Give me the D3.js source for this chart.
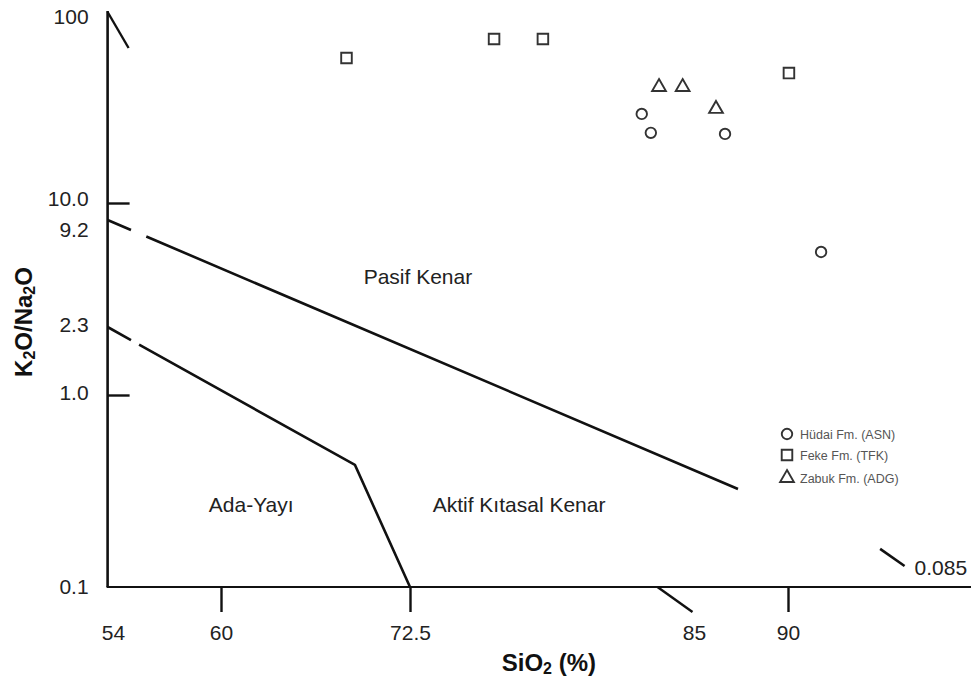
<!DOCTYPE html>
<html>
<head>
<meta charset="utf-8">
<script src="https://cdn.jsdelivr.net/npm/d3@7"></script>
<style>
  html, body { margin: 0; padding: 0; background: #fff; }
  svg { display: block; font-family: "Liberation Sans", Arial, sans-serif; }
</style>
</head>
<body>
<script>
// SiO2 vs K2O/Na2O tectonic setting discrimination diagram

// Axis ticks
const xTickValues = [54, 60, 72.5, 85, 90];
const xTickLabels = ["54", "60", "72.5", "85", "90"];
const yTickValues = [100, 10, 9.2, 2.3, 1, 0.1];
const yTickLabels = ["100", "10.0", "9.2", "2.3", "1.0", "0.1"];

// Samples (SiO2 %, K2O/Na2O)
const hudaiSiO2 = [82.7, 83.1, 86.65, 91.76];
const hudaiRatio = [29.1, 23.2, 22.9, 6.08];
const fekeSiO2 = [68.3, 76.2, 78.35, 90.05];
const fekeRatio = [56.9, 71.5, 71.5, 47.5];
const zabukSiO2 = [83.46, 84.5, 86.17];
const zabukRatio = [40.2, 40.2, 30.9];

// Field boundaries (SiO2 %, K2O/Na2O)
const sio2Min = 53.7;
const pmAcmBoundary = [[53.7, 9.2], [87.34, 0.324]];
const acmArcBoundary = [[53.7, 2.3], [68.86, 0.432], [72.5, 0.1]];
const rightBoundary = [[94.9, 0.158], [96.2, 0.1286]];
const rightBoundaryLabel = "0.085";

// Field names
const fieldNames = ["Pasif Kenar", "Aktif Kıtasal Kenar", "Ada-Yayı"];
const fieldSiO2 = [72.85, 77.3, 62.0];
const fieldRatio = [4.0, 0.246, 0.246];

// Legend
const seriesNames = ["Hüdai Fm. (ASN)", "Feke Fm. (TFK)", "Zabuk Fm. (ADG)"];

const W = 971, H = 681;
const svg = d3.select("body").append("svg").attr("width", W).attr("height", H);

// Piecewise scales following the diagram's graduation
const x = d3.scaleLinear().domain([54, 60, 72.5, 85, 90]).range([113, 221, 410, 694, 788]);
const y = d3.scaleLog().domain([0.1, 1, 2.3, 9.2, 10, 100]).range([587, 395, 327, 220, 203, 11]);

const x0 = x(sio2Min);
const yBottom = y(0.1);

const ink = "#111";
const labelSize = 21;
const titleSize = 24;

// Axis lines
svg.append("line").attr("x1", x0).attr("x2", x0).attr("y1", y(100)).attr("y2", yBottom)
  .attr("stroke", ink).attr("stroke-width", 2.6);
svg.append("line").attr("x1", x0 - 1).attr("x2", W).attr("y1", yBottom).attr("y2", yBottom)
  .attr("stroke", ink).attr("stroke-width", 2);

// Y axis ticks and labels
const gY = svg.append("g").attr("transform", `translate(${x0},0)`)
  .call(d3.axisLeft(y).tickValues(yTickValues)
    .tickFormat((d, i) => yTickLabels[i]).tickSize(-22).tickPadding(19));
gY.select(".domain").remove();
gY.selectAll(".tick line")
  .attr("stroke", ink).attr("stroke-width", 2.4)
  .filter(d => !(d === 10 || d === 1)).remove();
const yNudge = new Map([[100, 6], [9.2, 10], [2.3, -2], [10, -4], [1, -2]]);
gY.selectAll(".tick text")
  .attr("font-size", labelSize).attr("fill", "#222")
  .attr("font-family", "Liberation Sans, Arial, sans-serif")
  .attr("transform", d => `translate(0,${yNudge.get(d) || 0})`);

// Slanted mark at the top of the ratio axis
svg.append("line").attr("x1", x0).attr("y1", y(100) + 1)
  .attr("x2", x0 + 21).attr("y2", y(100) + 37)
  .attr("stroke", ink).attr("stroke-width", 2.4);

// X axis ticks and labels
const gX = svg.append("g").attr("transform", `translate(0,${yBottom})`)
  .call(d3.axisBottom(x).tickValues(xTickValues)
    .tickFormat((d, i) => xTickLabels[i]).tickSize(25).tickPadding(13));
gX.select(".domain").remove();
gX.selectAll(".tick line").attr("stroke", ink).attr("stroke-width", 2.4);
gX.selectAll(".tick line").filter(d => d === 54).remove();
gX.selectAll(".tick line").filter(d => d === 85)
  .attr("x1", -37).attr("y1", 0).attr("x2", -2).attr("y2", 25);
gX.selectAll(".tick text")
  .attr("font-size", labelSize).attr("fill", "#222")
  .attr("font-family", "Liberation Sans, Arial, sans-serif");

// Boundary lines
const line = d3.line().x(d => x(d[0])).y(d => y(d[1]));

function drawBoundary(points, gapFrom, gapTo) {
  const path = svg.append("path").attr("d", line(points))
    .attr("fill", "none").attr("stroke", ink).attr("stroke-width", 2.6)
    .attr("stroke-linejoin", "miter");
  if (gapFrom != null) {
    const px0 = x(points[0][0]), py0 = y(points[0][1]);
    const px1 = x(points[1][0]), py1 = y(points[1][1]);
    const ratio = Math.hypot(px1 - px0, py1 - py0) / (px1 - px0);
    const d1 = (x(gapFrom) - px0) * ratio;
    const d2 = (x(gapTo) - x(gapFrom)) * ratio;
    const total = path.node().getTotalLength();
    path.attr("stroke-dasharray", `${d1} ${d2} ${total}`);
  }
  return path;
}
drawBoundary(pmAcmBoundary, 55.0, 55.85);
drawBoundary(acmArcBoundary, 55.0, 55.45);
drawBoundary(rightBoundary);

const rEnd = rightBoundary[rightBoundary.length - 1];
svg.append("text").attr("x", x(rEnd[0]) + 10).attr("y", y(rEnd[1]) + 9)
  .attr("font-size", labelSize).attr("fill", "#222").text(rightBoundaryLabel);

// Field names
svg.append("g").selectAll("text").data(fieldNames).join("text")
  .attr("x", (d, i) => x(fieldSiO2[i]))
  .attr("y", (d, i) => y(fieldRatio[i]))
  .attr("text-anchor", "middle")
  .attr("font-size", labelSize).attr("fill", "#222")
  .text(d => d);

// Markers
const symbolTypes = [d3.symbolCircle, d3.symbolSquare, d3.symbolTriangle];
const symbolSizes = [86, 112, 82];
const markerStroke = "#333";

const series = [
  { xs: hudaiSiO2, ys: hudaiRatio },
  { xs: fekeSiO2, ys: fekeRatio },
  { xs: zabukSiO2, ys: zabukRatio }
];

series.forEach((s, k) => {
  const sym = d3.symbol().type(symbolTypes[k]).size(symbolSizes[k]);
  svg.append("g").selectAll("path").data(s.xs).join("path")
    .attr("d", sym)
    .attr("transform", (d, i) => `translate(${x(d)},${y(s.ys[i])})`)
    .attr("fill", "#fff").attr("stroke", markerStroke).attr("stroke-width", 1.9);
});

// Legend
const legend = svg.append("g").attr("transform", "translate(787,434)");
const rows = legend.selectAll("g").data(seriesNames).join("g")
  .attr("transform", (d, i) => `translate(0,${[0, 21, 44][i]})`);
rows.append("path")
  .attr("d", (d, i) => d3.symbol().type(symbolTypes[i]).size(symbolSizes[i])())
  .attr("fill", "#fff").attr("stroke", markerStroke).attr("stroke-width", 1.9);
rows.append("text").attr("x", 13).attr("y", 4.5)
  .attr("font-size", 12.5).attr("fill", "#555").text(d => d);

// Axis titles
const xTitle = svg.append("text")
  .attr("x", 596).attr("y", 671)
  .attr("text-anchor", "end")
  .attr("font-size", titleSize).attr("font-weight", "bold").attr("fill", "#111");
xTitle.append("tspan").text("SiO");
xTitle.append("tspan").attr("font-size", 16).attr("dy", 3).text("2");
xTitle.append("tspan").attr("dy", -3).text(" (%)");

const yTitle = svg.append("text")
  .attr("transform", "translate(32,322) rotate(-90)")
  .attr("text-anchor", "middle")
  .attr("font-size", titleSize).attr("font-weight", "bold").attr("fill", "#111");
yTitle.append("tspan").text("K");
yTitle.append("tspan").attr("font-size", 16).attr("dy", 3).text("2");
yTitle.append("tspan").attr("dy", -3).text("O/Na");
yTitle.append("tspan").attr("font-size", 16).attr("dy", 3).text("2");
yTitle.append("tspan").attr("dy", -3).text("O");
</script>
</body>
</html>
